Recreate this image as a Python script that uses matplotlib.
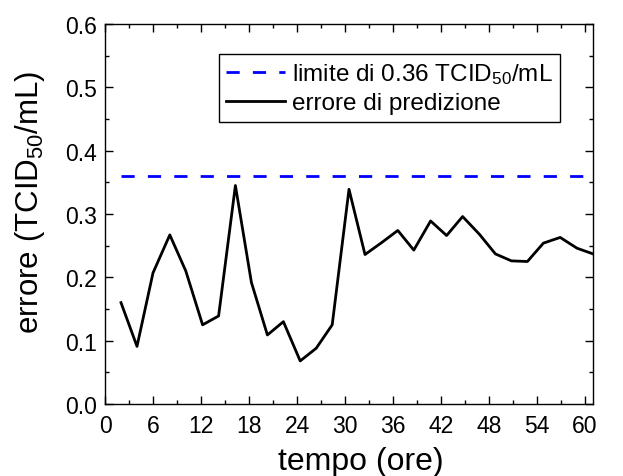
import matplotlib
matplotlib.use("Agg")
import matplotlib.pyplot as plt
from matplotlib.ticker import MultipleLocator

plt.rcParams["font.family"] = ["Liberation Sans", "DejaVu Sans"]
plt.rcParams["mathtext.fontset"] = "custom"
plt.rcParams["mathtext.rm"] = "Liberation Sans"
plt.rcParams["mathtext.it"] = "Liberation Sans:italic"
plt.rcParams["lines.scale_dashes"] = False

# ore dall'inizio e errore di predizione (TCID50/mL)
tempo = [2.0, 4.0, 6.0, 8.1, 10.1, 12.2, 14.2, 16.3, 18.3, 20.3,
         22.3, 24.4, 26.4, 28.4, 30.5, 32.5, 34.6, 36.6, 38.6, 40.7,
         42.7, 44.7, 46.8, 48.8, 50.8, 52.8, 54.8, 56.9, 59.0, 61.0]
errore = [0.160, 0.091, 0.207, 0.267, 0.210, 0.125, 0.139, 0.345, 0.192, 0.109,
          0.130, 0.068, 0.088, 0.125, 0.339, 0.236, 0.255, 0.274, 0.243, 0.289,
          0.266, 0.296, 0.268, 0.237, 0.226, 0.225, 0.254, 0.263, 0.246, 0.237]
limite = 0.36
limite_x = [2.0, 61.0]

fig = plt.figure(figsize=(6.23, 4.77), dpi=100)
ax = fig.add_axes([105 / 623, 1 - 405 / 477, 488 / 623, 380 / 477])

ax.plot(limite_x, [limite, limite], color="#0000ff", lw=2.0, dashes=(9.5, 9.5),
        label="limite di 0.36 TCID$_{50}$/mL")
ax.plot(tempo, errore, color="black", lw=2.0, label="errore di predizione")

ax.set_xlim(0, 61)
ax.set_ylim(0, 0.6)
ax.xaxis.set_major_locator(MultipleLocator(6))
ax.xaxis.set_minor_locator(MultipleLocator(3))
ax.yaxis.set_major_locator(MultipleLocator(0.1))
ax.yaxis.set_minor_locator(MultipleLocator(0.05))
ax.yaxis.set_major_formatter(plt.FormatStrFormatter("%.1f"))
ax.tick_params(which="both", direction="in", top=True, right=True, width=1.0)
ax.tick_params(which="major", length=6, labelsize=16.5)
ax.tick_params(axis="x", which="major", pad=7.5)
ax.tick_params(axis="y", which="major", pad=6)
ax.tick_params(which="minor", length=3)
for s in ax.spines.values():
    s.set_linewidth(1.0)

ax.set_xlabel("tempo (ore)", fontsize=23, va="baseline")
ax.xaxis.set_label_coords(0.525, -0.171)
ax.set_ylabel("errore (TCID$_{50}$/mL)", fontsize=22.5, va="baseline")
ax.yaxis.set_label_coords(-0.137, 0.534)

leg = ax.legend(loc="upper right", bbox_to_anchor=(560 / 623, 1 - 55 / 477),
                bbox_transform=fig.transFigure, borderaxespad=0, fontsize=17.5,
                fancybox=False, framealpha=1, edgecolor="black",
                handlelength=2.4, handletextpad=0.3, labelspacing=0.25,
                borderpad=0.3)
leg.get_frame().set_linewidth(1.0)

fig.savefig("out.png", dpi=100)
